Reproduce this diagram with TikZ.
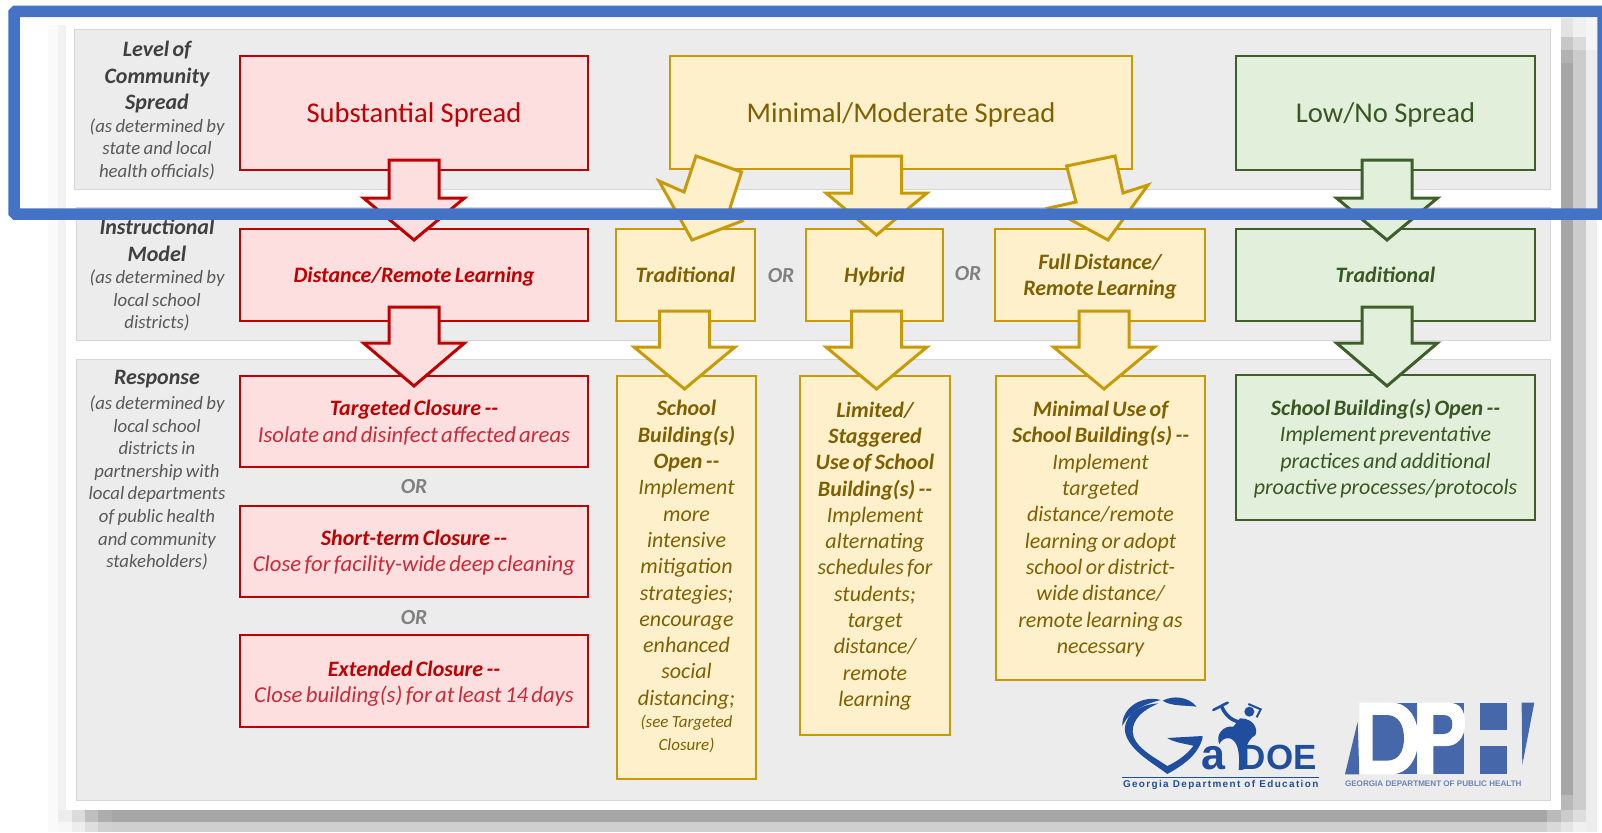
\documentclass[tikz,border=0pt]{standalone}
\usepackage{fontspec}
\setmainfont{Carlito}
\newfontfamily\logosans{Liberation Sans}
\newfontfamily\logospaced[LetterSpace=14]{Liberation Sans}
\usetikzlibrary{calc}
\definecolor{bandgray}{HTML}{ECECEC}
\definecolor{bandline}{HTML}{D6D6D6}
\definecolor{redline}{HTML}{C00000}
\definecolor{redfill}{HTML}{FEDFE0}
\definecolor{redsoft}{HTML}{CB2A36}
\definecolor{yelline}{HTML}{C99A08}
\definecolor{yelfill}{HTML}{FFF0CC}
\definecolor{yeltext}{HTML}{7F6000}
\definecolor{grnline}{HTML}{3F5F2A}
\definecolor{grnfill}{HTML}{E2EFDA}
\definecolor{grntext}{HTML}{385723}
\definecolor{frameblue}{HTML}{4472C4}
\definecolor{doeblue}{HTML}{1F4E9E}
\definecolor{dphblue}{HTML}{4667A9}
\definecolor{dphtext}{HTML}{6D84B6}
\newcommand\fh{\fontsize{28.6}{32}\selectfont}
\newcommand\fb{\fontsize{22}{26.3}\selectfont}
\newcommand\fr{\fontsize{22.7}{26.3}\selectfont}
\newcommand\fm{\fontsize{17}{22.5}\selectfont}
\newcommand\hd[1]{\fontsize{22}{26.5}\selectfont\bfseries\itshape\textcolor{black!75}{#1}}
\newcommand\sm[1]{\fontsize{18.8}{22.6}\selectfont\mdseries\itshape\textcolor{black!65}{#1}}
\newcommand\tb{\bfseries\itshape}
\newcommand\tl{\mdseries\itshape}
\tikzset{
  basebox/.style={draw,line width=2pt,anchor=north west,align=center,inner sep=0pt},
  redbox/.style={basebox,draw=redline,fill=redfill,text=redline},
  yelbox/.style={basebox,draw=yelline,fill=yelfill,text=yeltext},
  grnbox/.style={basebox,draw=grnline,fill=grnfill,text=grntext},
  redarrow/.style={draw=redline,fill=redfill,line width=3pt,line join=miter,miter limit=6},
  yelarrow/.style={draw=yelline,fill=yelfill,line width=3pt,line join=miter,miter limit=6},
  grnarrow/.style={draw=grnline,fill=grnfill,line width=3pt,line join=miter,miter limit=6},
  band/.style={fill=bandgray,draw=bandline,line width=0.8pt},
  sidelabel/.style={align=center,inner sep=0pt,anchor=north,text width=156pt},
  orlabel/.style={font=\fontsize{21.5}{26}\selectfont\bfseries\itshape,text=black!50,inner sep=0pt},
  logotext/.style={inner sep=0pt,anchor=base,text=doeblue},
}
% #1 style, #2 source, #3 target, #4 dx on source, #5 top above source, #6 shoulder below source, #7 tip below target top
\newcommand\blockarrow[7]{%
  \coordinate (sx) at ([xshift=#4pt]#2.south);
  \coordinate (atop) at ([yshift=#5pt]sx);
  \coordinate (ashoulder) at ([yshift=-#6pt]sx);
  \coordinate (tn) at ([yshift=-#7pt]#3.north);
  \coordinate (atip) at (sx |- tn);
  \draw[#1] ([xshift=-25pt]atop) -- ([xshift=25pt]atop) -- ([xshift=25pt]ashoulder)
    -- ([xshift=50.5pt]ashoulder) -- (atip) -- ([xshift=-50.5pt]ashoulder)
    -- ([xshift=-25pt]ashoulder) -- cycle;
}
\newcommand\bx[7]{% style name x1 y1 x2 y2 text
  \pgfmathsetmacro\bw{#5-#3}\pgfmathsetmacro\bh{#6-#4}
  \node[#1,minimum width=\bw pt,minimum height=\bh pt,text width=\bw pt-4pt] (#2) at (#3-1,#4-1) {#7\par};
}
\newcommand\dd{-{}-}
\newcommand\dn[1]{\par\vspace*{-#1pt}}
\begin{document}
\begin{tikzpicture}[x=1pt,y=-1pt]
\useasboundingbox (0,0) rectangle (1602,832);
\clip (0,0) rectangle (1602,832);
\fill[white] (0,0) rectangle (1602,832);
% soft shadow, in blocks
\fill[black!2] (48,25) rectangle (58,832);
\fill[black!5] (58,25) rectangle (66,810);
\foreach \xa/\xb/\c in {58/72/7,72/85/14,85/98/25,98/112/32}{\fill[black!\c] (\xa,810) rectangle (\xb,822);}
\foreach \xa/\xb/\c in {58/72/3,72/85/7,85/98/13,98/112/18}{\fill[black!\c] (\xa,822) rectangle (\xb,832);}
\fill[black!35] (112,810) rectangle (1547,822);
\fill[black!19] (112,822) rectangle (1547,832);
\fill[black!35] (1561,63) rectangle (1573,795);
\fill[black!30] (1561,50) rectangle (1573,63);
\fill[black!22] (1561,37) rectangle (1573,50);
\fill[black!11] (1561,18) rectangle (1573,37);
\fill[black!20] (1573,50) rectangle (1586,810);
\fill[black!14] (1573,37) rectangle (1586,50);
\fill[black!6] (1573,18) rectangle (1586,37);
\fill[black!7] (1586,50) rectangle (1597,832);
\fill[black!4] (1586,18) rectangle (1597,50);
\fill[black!28] (1561,795) rectangle (1573,810);
\fill[black!27] (1547,810) rectangle (1561,822);
\fill[black!20] (1561,810) rectangle (1573,822);
\fill[black!13] (1573,810) rectangle (1586,822);
\fill[black!15] (1547,822) rectangle (1561,832);
\fill[black!10] (1561,822) rectangle (1573,832);
\fill[black!6] (1573,822) rectangle (1586,832);
% white sheet and bands
\fill[white] (66,17) rectangle (1561,809);
\draw[band] (74,29) rectangle (1550,189);
\draw[band] (76,207) rectangle (1550,340);
\draw[band] (76,359) rectangle (1550,800);
% side labels
\node[sidelabel] (lvl) at (157,41) {\hd{Level of}\\\hd{Community}\\\hd{Spread}\\\sm{(as determined by}\\\sm{state and local}\\\sm{health officials)}\par};
\node[sidelabel] (ins) at (157,219) {\hd{Instructional}\\\hd{Model}\\\sm{(as determined by}\\\sm{local school}\\\sm{districts)}\par};
\node[sidelabel] (rsp) at (157,370) {\hd{Response}\\[2.5pt]\sm{(as determined by}\\\sm{local school}\\\sm{districts in}\\\sm{partnership with}\\\sm{local departments}\\\sm{of public health}\\\sm{and community}\\\sm{stakeholders)}\par};
% top row
\bx{redbox}{sub}{240}{56}{588}{170}{\fh Substantial\hspace{3pt} Spread\dn{6}}
\bx{yelbox}{minimal}{670}{56}{1132}{169}{\fh Minimal/Moderate\hspace{3pt} Spread\dn{4}}
\bx{grnbox}{low}{1236}{56}{1535}{170}{\fh Low/No\hspace{3pt} Spread\dn{6}}
% middle row
\bx{redbox}{dist}{240}{229}{588}{321}{\fb\tb Distance/Remote Learning\dn{4}}
\bx{yelbox}{trad}{616}{229}{755}{321}{\fb\tb Traditional}
\bx{yelbox}{hyb}{806}{229}{943}{321}{\fb\tb Hybrid\dn{4}}
\bx{yelbox}{full}{995}{229}{1205}{321}{\fb\tb Full Distance/\\Remote Learning\dn{3}}
\bx{grnbox}{tradg}{1236}{229}{1535}{321}{\fb\tb Traditional}
\node[orlabel] (or1) at (781,276) {OR};
\node[orlabel] (or2) at (968,274) {OR};
% response column, red
\bx{redbox}{targ}{240}{376}{588}{467}{\fb\tb Targeted Closure \dd\\\fr\tl\textcolor{redsoft}{Isolate and disinfect affected areas}\dn{2}}
\node[orlabel] (or3) at (414,487) {OR};
\bx{redbox}{short}{240}{506}{588}{597}{\fb\tb Short-term Closure \dd\\\fr\tl\textcolor{redsoft}{Close for facility-wide deep cleaning}\dn{3}}
\node[orlabel] (or4) at (414,618) {OR};
\bx{redbox}{ext}{240}{635}{588}{727}{\fb\tb Extended Closure \dd\\\fr\tl\textcolor{redsoft}{Close building(s) for at least 14 days}\dn{5}}
% response columns, yellow
\bx{yelbox}{open}{617}{376}{756}{779}{\fb\tb School\\Building(s)\\Open \dd\\\tl Implement\\more\\intensive\\mitigation\\strategies;\\encourage\\enhanced\\social\\distancing;\\\fm (see Targeted\\Closure)\par\vspace*{2pt}}
\bx{yelbox}{lim}{800}{376}{950}{735}{\fb\tb Limited/\\Staggered\\Use of School\\Building(s) \dd\\\tl Implement\\alternating\\schedules for\\students;\\target\\distance/\\remote\\learning\dn{1}}
\bx{yelbox}{minuse}{996}{376}{1205}{680}{\fb\tb Minimal Use of\\School Building(s) \dd\\\tl Implement\\targeted\\distance/remote\\learning or adopt\\school or district-\\wide distance/\\remote learning as\\necessary\dn{2}}
% response column, green
\bx{grnbox}{openg}{1236}{375}{1535}{520}{\fb\tb School Building(s) Open \dd\\\tl Implement preventative\\practices and additional\\proactive processes/protocols\dn{2}}
% block arrows
\blockarrow{redarrow}{sub}{dist}{0}{11}{27}{12}
\blockarrow{redarrow}{dist}{targ}{0}{15}{21}{11}
\blockarrow{yelarrow}{minimal}{hyb}{-24.5}{14}{23}{7}
\draw[yelarrow,shift={(minimal.south)}] (-205,-14) -- (-159.5,2) -- (-171,38) -- (-159,51) -- (-209,70) -- (-242,11) -- (-217,22) -- cycle;
\draw[yelarrow,shift={(minimal.south)}] (165.6,-4) -- (214,-14) -- (222,23) -- (247,15) -- (207,70) -- (148,38) -- (175,32) -- cycle;
\blockarrow{yelarrow}{trad}{open}{-1}{11}{25}{14}
\blockarrow{yelarrow}{hyb}{lim}{2}{11}{25}{14}
\blockarrow{yelarrow}{full}{minuse}{4}{11}{25}{14}
\blockarrow{grnarrow}{low}{tradg}{1.5}{11}{27}{12}
\blockarrow{grnarrow}{tradg}{openg}{1.5}{15}{21}{12}
% blue frame
\draw[frameblue,line width=11.5pt,rounded corners=1.5pt] (1610,214) -- (14,214) -- (14,11.5) -- (1603,11.5) -- (1603,214);
% GaDOE logo
\begin{scope}[shift={(1090,660)},x=0.3333pt,y=-0.3333pt]
\fill[doeblue] (97,198) .. controls (95,140) and (160,105) .. (212,120) .. controls (170,130) and (120,150) .. (97,198) -- cycle;
\fill[doeblue] (218,122) .. controls (250,105) and (295,110) .. (320,140) .. controls (285,135) and (245,140) .. (218,122) -- cycle;
\fill[doeblue] (205,130) .. controls (130,135) and (100,180) .. (105,215) .. controls (115,270) and (190,310) .. (232,342) .. controls (280,315) and (325,285) .. (338,232) -- (322,240) .. controls (300,280) and (260,305) .. (232,318) .. controls (190,290) and (130,260) .. (128,215) .. controls (128,175) and (160,150) .. (205,130) -- cycle;
\fill[doeblue] (232,234) -- (338,228) -- (325,262) .. controls (300,252) and (255,250) .. (232,234) -- cycle;
\node[logotext,font=\logosans\bfseries\fontsize{43}{43}\selectfont] (ga) at (370,330) {a};
\node[logotext,font=\logosans\bfseries\fontsize{35}{35}\selectfont] (doe) at (566,330) {DOE};
\fill[doeblue] (478,155) circle (15);
\draw[doeblue,line width=2pt] (475,132) -- (512,148) -- (500,172);
\draw[doeblue,line width=2.6pt,line cap=round] (370,150) -- (413,128);
\draw[doeblue,line width=3.5pt,line cap=round] (395,140) .. controls (410,175) and (440,190) .. (462,185);
\fill[doeblue] (450,175) .. controls (490,175) and (505,205) .. (496,226) .. controls (472,238) and (462,270) .. (460,330) -- (446,330) .. controls (450,280) and (445,245) .. (420,235) .. controls (405,232) and (395,240) .. (388,252) .. controls (375,225) and (400,195) .. (430,200) -- cycle;
\draw[doeblue,line width=0.9pt] (97,352) -- (686,352);
\node[logotext,font=\logospaced\bfseries\fontsize{9.9}{11}\selectfont] (doename) at (392,383) {Georgia Department of Education};
% DPH logo
\fill[dphblue] (905,128) rectangle (982,343);
\fill[dphblue] (1030,128) rectangle (1122,343);
\fill[dphblue] (1170,128) rectangle (1250,210);
\fill[dphblue] (1170,258) rectangle (1250,343);
\fill[dphblue] (1295,128) -- (1333,128) -- (1297,315) -- cycle;
\fill[dphblue] (765,343) -- (803,185) -- (808,343) -- cycle;
\fill[white] (848,128) -- (905,128) .. controls (955,128) and (985,175) .. (985,235) .. controls (985,300) and (950,343) .. (905,343) -- (808,343) -- (808,128) -- cycle;
\fill[dphblue] (848,165) -- (890,165) .. controls (925,165) and (942,195) .. (942,235) .. controls (942,275) and (925,302) .. (890,302) -- (848,302) -- cycle;
\fill[white] (982,128) -- (1075,128) .. controls (1110,128) and (1125,150) .. (1125,190) .. controls (1125,235) and (1100,258) .. (1070,258) -- (1030,258) -- (1030,343) -- (982,343) -- cycle;
\fill[dphblue] (1030,165) -- (1060,165) .. controls (1078,165) and (1087,175) .. (1087,192) .. controls (1087,210) and (1078,222) .. (1060,222) -- (1030,222) -- cycle;
\node[logotext,text=dphtext,font=\logosans\bfseries\fontsize{8.1}{10}\selectfont] (dphname) at (1030,381) {GEORGIA DEPARTMENT OF PUBLIC HEALTH};
\end{scope}
\end{tikzpicture}
\end{document}
